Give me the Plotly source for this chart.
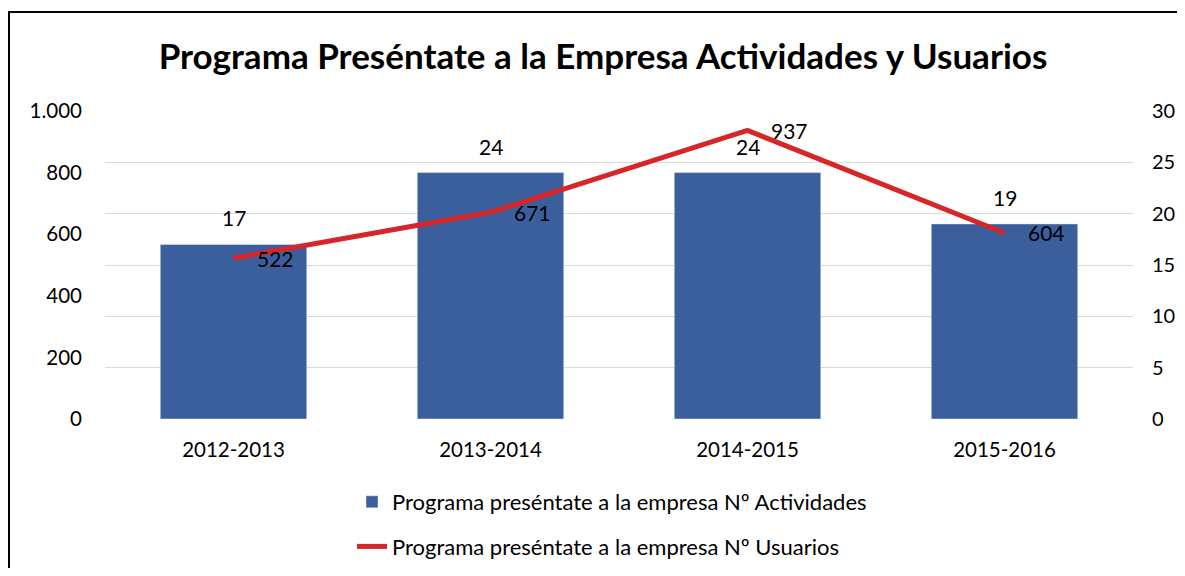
import plotly.graph_objects as go

categories = ["2012-2013", "2013-2014", "2014-2015", "2015-2016"]
actividades = [17, 24, 24, 19]
usuarios = [522, 671, 937, 604]
name_act = "Programa preséntate a la empresa Nº Actividades"
name_usu = "Programa preséntate a la empresa Nº Usuarios"
title_text = "Programa Preséntate a la Empresa Actividades y Usuarios"

W, H = 1169, 560
L, T = 97, 103
pw, ph = 1028, 308
R, B = W - L - pw, H - T - ph

def px_x(p):
    return (p - L) / pw

def px_y(p):
    return (T + ph - p) / ph

FONT = "Lato"
BLUE = "#3A5F9C"
RED = "#D7262A"

fig = go.Figure()
fig.add_trace(go.Bar(
    x=categories, y=actividades, name=name_act, marker_color=BLUE,
    yaxis="y", legendgroup="a",
))
fig.add_trace(go.Scatter(
    x=categories, y=usuarios, name=name_usu, mode="lines",
    line=dict(color=RED, width=5), yaxis="y2", legendgroup="b",
))

annotations = []
for c, v in zip(categories, actividades):
    annotations.append(dict(x=c, y=v, xref="x", yref="y", text=str(v),
                            showarrow=False, yanchor="bottom", yshift=12,
                            font=dict(family=FONT, size=21, color="#000")))
for c, v in zip(categories, usuarios):
    annotations.append(dict(x=c, y=v, xref="x", yref="y2", text=str(v),
                            showarrow=False, xanchor="left", xshift=21,
                            font=dict(family=FONT, size=21, color="#000")))

fig.update_layout(
    width=W, height=H,
    margin=dict(l=L, r=R, t=T, b=B, autoexpand=False),
    paper_bgcolor="white", plot_bgcolor="white",
    separators=",.",
    font=dict(family=FONT, size=20.5, color="#000"),
    title=dict(text="<b>" + title_text + "</b>", x=595 / W, xanchor="center",
               y=1 - 49 / H, yanchor="middle",
               font=dict(family=FONT, size=35, color="#000")),
    bargap=0.43,
    xaxis=dict(type="category", showgrid=False, showline=False, ticks="",
               tickfont=dict(family=FONT, size=20.5), ticklabelstandoff=16,
               automargin=False),
    yaxis=dict(side="right", range=[0, 30], dtick=5, showgrid=True,
               gridcolor="#D9D9D9", gridwidth=1, zeroline=False,
               showline=False, ticks="", tickfont=dict(family=FONT, size=20),
               ticklabelstandoff=18, automargin=False),
    yaxis2=dict(side="left", overlaying="y", range=[0, 1000], dtick=200,
                tickformat=",d", showgrid=False, zeroline=False,
                showline=False, ticks="", tickfont=dict(family=FONT, size=20.5),
                ticklabelstandoff=22, automargin=False),
    showlegend=True,
    legend=dict(orientation="v", x=px_x(344), xanchor="left",
                y=px_y(473), yanchor="top", tracegroupgap=13,
                font=dict(family=FONT, size=22), bgcolor="rgba(0,0,0,0)"),
    annotations=annotations,
    shapes=[dict(type="rect", xref="paper", yref="paper",
                 x0=px_x(1), x1=px_x(1250), y0=px_y(650), y1=px_y(4),
                 line=dict(color="#000", width=2), fillcolor="rgba(0,0,0,0)",
                 layer="above")],
)

fig.write_html("out.html")
